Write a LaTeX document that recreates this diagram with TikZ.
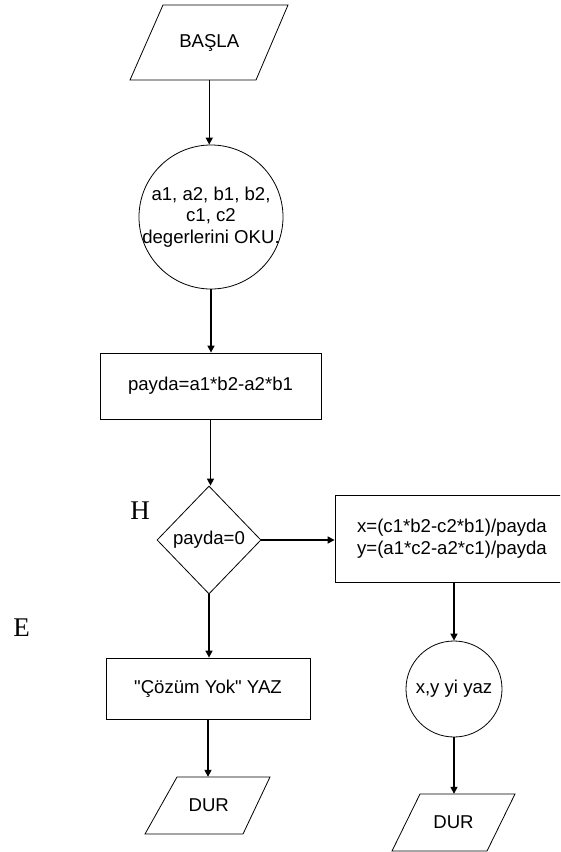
\documentclass[tikz,border=0pt]{standalone}
\usepackage{fontspec}
\setmainfont{Liberation Sans}
\newfontfamily\lblfont{Liberation Serif}
\usetikzlibrary{shapes.geometric,arrows.meta}
\begin{document}
\begin{tikzpicture}[x=1pt,y=-1pt,
  shp/.style={draw=black,line width=0.8pt},
  boxn/.style={shp,rectangle,inner sep=0pt},
  txt/.style={font=\fontsize{18.6}{21.5}\selectfont,text=black,align=center},
  arr/.style={line width=1.5pt,-{Triangle[length=7pt,width=7pt]}},
  lbl/.style={font=\lblfont\fontsize{27}{27}\selectfont,text=black}]
\useasboundingbox (0,0) rectangle (560,852);
\clip (0,0) rectangle (560,852);
% start
\node[txt,minimum height=75pt,minimum width=80pt] (basla) at (209.25,42.5) {BAŞLA};
\draw[shp] (163,5) -- (288,5) -- (256,80) -- (130,80) -- cycle;
% read
\node[shp,circle,minimum size=144pt,inner sep=0pt] (oku) at (211,217) {};
\node[txt,inner sep=0pt] (okut) at (oku.center) {a1, a2, b1, b2,\\c1, c2\\degerlerini OKU.};
% compute
\node[boxn,txt,minimum width=221pt,minimum height=66pt] (payda) at (210.5,386) {payda=a1*b2-a2*b1};
% decision
\node[shp,diamond,txt,minimum width=104pt,minimum height=108pt,inner sep=0pt] (karar) at (209,540) {payda=0};
\node[lbl] (h) at (140,511) {H};
\node[lbl] (e) at (21.5,628) {E};
% right branch
\node[boxn,txt,minimum width=234pt,minimum height=87pt] (rbox) at (452,538.5) {x=(c1*b2-c2*b1)/payda\\y=(a1*c2-a2*c1)/payda};
\node[shp,circle,txt,minimum size=96pt,inner sep=0pt] (yaz) at (454,689) {x,y yi yaz};
\node[txt,minimum height=57pt,minimum width=60pt] (dur2) at (453.5,822.5) {DUR};
\draw[shp] (420,794) -- (515,794) -- (487,851) -- (392,851) -- cycle;
% left branch
\node[boxn,txt,minimum width=204pt,minimum height=61pt] (cozum) at (208,688.5) {\textquotedbl Çözüm Yok\textquotedbl{} YAZ};
\node[txt,minimum height=57pt,minimum width=60pt] (dur1) at (208.75,805.5) {DUR};
\draw[shp] (177,777) -- (270,777) -- (243,834) -- (145,834) -- cycle;
% connectors
\draw[arr] (basla.south) -- (basla.south |- oku.north);
\draw[arr] (oku.south) -- (oku.south |- payda.north);
\draw[arr] (payda.south) -- (payda.south |- karar.north);
\draw[arr] (karar.east) -- (karar.east -| rbox.west);
\draw[arr] (karar.south) -- (karar.south |- cozum.north);
\draw[arr] (cozum.south) -- (cozum.south |- dur1.north);
\draw[arr] (yaz.north |- rbox.south) -- (yaz.north);
\draw[arr] (yaz.south) -- (yaz.south |- dur2.north);
\end{tikzpicture}
\end{document}
